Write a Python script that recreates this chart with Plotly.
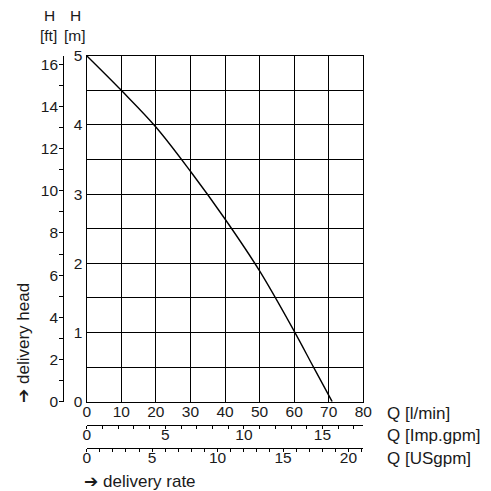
import plotly.graph_objects as go

# ---- data ----
flow_lpm = [0, 10, 20, 30, 40, 50, 60, 65.6, 71]
head_m = [5.0, 4.5, 3.97, 3.33, 2.64, 1.89, 1.02, 0.5, 0.0]

lpm_ticks = [0, 10, 20, 30, 40, 50, 60, 70, 80]
m_ticks = [0, 1, 2, 3, 4, 5]
ft_ticks = [0, 2, 4, 6, 8, 10, 12, 14, 16]
imp_ticks = [0, 5, 10, 15]
us_ticks = [0, 5, 10, 15, 20]

LPM_MAX = 80
M_MAX = 5
L_PER_IMP = 4.54609
L_PER_US = 3.78541
M_PER_FT = 0.3048

W = H = 491
FONT = "Liberation Sans, Arial, sans-serif"
TXT = "#1a1a1a"


def px(x):
    return x / W


def py(y):
    return 1 - y / H


X0, X1 = 86.7, 363.3
Y_TOP, Y_BOT = 55.7, 401.7

fig = go.Figure()
fig.add_trace(go.Scatter(x=flow_lpm, y=head_m, mode="lines",
                         line=dict(color="black", width=1.4, shape="spline", smoothing=1.0),
                         hoverinfo="skip", showlegend=False))

axis_font = dict(family=FONT, size=15.5, color=TXT)

fig.update_layout(
    width=W, height=H,
    margin=dict(l=0, r=0, t=0, b=0),
    paper_bgcolor="white", plot_bgcolor="white",
    font=dict(family=FONT, size=15, color=TXT),
    xaxis=dict(domain=[px(X0), px(X1)], range=[0, LPM_MAX], tickvals=lpm_ticks,
               showgrid=True, gridcolor="black", gridwidth=1.4,
               showline=True, linecolor="black", linewidth=1.4, mirror=True,
               ticks="", ticklabelstandoff=-5, zeroline=False, tickfont=axis_font,
               automargin=False, fixedrange=True),
    yaxis=dict(domain=[py(Y_BOT), py(Y_TOP)], range=[0, M_MAX], tickvals=m_ticks,
               showgrid=True, gridcolor="black", gridwidth=1.4,
               minor=dict(dtick=0.5, showgrid=True, gridcolor="black", gridwidth=1.4),
               showline=True, linecolor="black", linewidth=1.4, mirror=True,
               ticks="", ticklabelstandoff=0, zeroline=False, tickfont=axis_font,
               automargin=False, fixedrange=True),
    yaxis2=dict(overlaying="y", anchor="free", position=px(63.3), side="left",
                range=[0, M_MAX / M_PER_FT], tickvals=ft_ticks,
                showgrid=False, zeroline=False,
                showline=True, linecolor="black", linewidth=1.3,
                ticks="outside", ticklen=4, tickcolor="black", tickwidth=1.2,
                minor=dict(dtick=1, ticks="outside", ticklen=4, tickcolor="black", tickwidth=1.2),
                ticklabelstandoff=-2, tickfont=axis_font, automargin=False, fixedrange=True),
    xaxis2=dict(overlaying="x", anchor="free", position=py(424.7), side="bottom",
                range=[0, LPM_MAX / L_PER_IMP], tickvals=imp_ticks,
                showgrid=False, zeroline=False,
                showline=True, linecolor="black", linewidth=1.3,
                ticks="outside", ticklen=3, tickcolor="black", tickwidth=1.2,
                minor=dict(dtick=1, ticks="outside", ticklen=3, tickcolor="black", tickwidth=1.2),
                ticklabelstandoff=-7, tickfont=axis_font, automargin=False, fixedrange=True),
    xaxis3=dict(overlaying="x", anchor="free", position=py(447.7), side="bottom",
                range=[0, LPM_MAX / L_PER_US], tickvals=us_ticks,
                showgrid=False, zeroline=False,
                showline=True, linecolor="black", linewidth=1.3,
                ticks="outside", ticklen=3, tickcolor="black", tickwidth=1.2,
                minor=dict(dtick=1, ticks="outside", ticklen=3, tickcolor="black", tickwidth=1.2),
                ticklabelstandoff=-7, tickfont=axis_font, automargin=False, fixedrange=True),
)

# dummy traces so the extra axes render
fig.add_trace(go.Scatter(x=[None], y=[None], xaxis="x", yaxis="y2", showlegend=False, hoverinfo="skip"))
fig.add_trace(go.Scatter(x=[None], y=[None], xaxis="x2", yaxis="y", showlegend=False, hoverinfo="skip"))
fig.add_trace(go.Scatter(x=[None], y=[None], xaxis="x3", yaxis="y", showlegend=False, hoverinfo="skip"))


def note(text, x, y, xanchor="center", angle=0, size=17):
    fig.add_annotation(text=text, x=px(x), y=py(y), xref="paper", yref="paper",
                       xanchor=xanchor, yanchor="middle", showarrow=False,
                       textangle=angle, font=dict(family=FONT, size=size, color=TXT))


ARROW = "<span style='font-family:DejaVu Sans'>➔</span>"

note("H", 49, 15, size=15.5)
note("H", 75, 15, size=15.5)
note("[ft]", 48, 35, size=15.5)
note("[m]", 75, 35, size=15.5)
note("Q [l/min]", 385, 413, xanchor="left")
note("Q [Imp.gpm]", 385, 435.5, xanchor="left")
note("Q [USgpm]", 385, 458.5, xanchor="left")
note(ARROW + " delivery rate", 82, 481, xanchor="left")
note(ARROW + " delivery head", 23, 343, angle=-90)

fig.write_html("out.html", config={"displayModeBar": False},
               post_script="document.body.style.margin='0';document.body.style.padding='0';")
